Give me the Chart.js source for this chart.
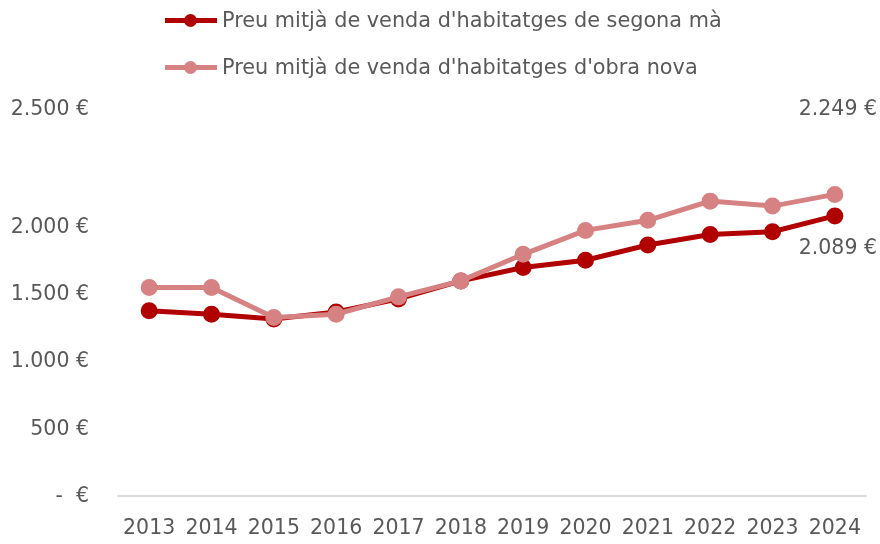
<!DOCTYPE html>
<html>
<head>
<meta charset="utf-8">
<script src="https://cdn.jsdelivr.net/npm/chart.js@4/dist/chart.umd.min.js"></script>
<style>
  html, body { margin: 0; padding: 0; background: #fff; }
  #wrap { position: relative; width: 880px; height: 544px; }
  #legend { position: absolute; left: 165px; top: 2px; font-family: "DejaVu Sans", sans-serif; font-size: 20.8px; color: #595959; }
  .item { display: flex; align-items: center; height: 36px; margin-bottom: 11px; }
  .mark { position: relative; width: 52px; height: 5px; margin-right: 5px; }
  .mark span { position: absolute; left: 19px; top: -4px; width: 13px; height: 13px; border-radius: 50%; }
</style>
</head>
<body>
<div id="wrap">
  <canvas id="priceChart" width="880" height="544"></canvas>
  <div id="legend"></div>
</div>
<script>
const years = ['2013', '2014', '2015', '2016', '2017', '2018', '2019', '2020', '2021', '2022', '2023', '2024'];
const segonaMa = [1382, 1357, 1322, 1374, 1471, 1605, 1704, 1759, 1872, 1951, 1971, 2089];
const obraNova = [1555, 1555, 1332, 1357, 1486, 1605, 1803, 1981, 2056, 2199, 2162, 2249];
const tickValues = [0, 500, 1000, 1500, 2000, 2880];
const tickLabels = ['-  €', '500 €', '1.000 €', '1.500 €', '2.000 €', '2.500 €'];
const seriesNames = ["Preu mitjà de venda d'habitatges de segona mà", "Preu mitjà de venda d'habitatges d'obra nova"];

const darkRed = '#B00000';
const pink = '#D68282';
const textColor = '#595959';
const font = '"DejaVu Sans", sans-serif';

function fmt(v) {
  return v.toLocaleString('de-DE') + ' €';
}

// last-point labels
const endLabels = {
  id: 'endLabels',
  afterDatasetsDraw(chart) {
    const ctx = chart.ctx;
    ctx.save();
    ctx.font = '20.5px ' + font;
    ctx.fillStyle = textColor;
    ctx.textAlign = 'right';
    ctx.textBaseline = 'middle';
    const last = years.length - 1;
    const p0 = chart.getDatasetMeta(0).data[last];
    ctx.fillText(fmt(segonaMa[last]), 877, p0.y + 33);
    ctx.fillText(fmt(obraNova[last]), 877, chart.scales.y.getPixelForValue(2880));
    ctx.restore();
  }
};

const ctx = document.getElementById('priceChart').getContext('2d');

const chart = new Chart(ctx, {
  type: 'line',
  data: {
    labels: years,
    datasets: [{
      label: seriesNames[0],
      data: segonaMa,
      borderColor: darkRed,
      backgroundColor: darkRed,
      borderWidth: 5,
      pointRadius: 6,
      pointHoverRadius: 6,
      tension: 0,
      order: 1
    }, {
      label: seriesNames[1],
      data: obraNova,
      borderColor: pink,
      backgroundColor: pink,
      borderWidth: 5,
      pointRadius: 6,
      pointHoverRadius: 6,
      tension: 0,
      order: 0
    }]
  },
  options: {
    responsive: false,
    animation: false,
    layout: { padding: { top: 107, right: 14, bottom: -9, left: 0 } },
    plugins: {
      legend: { display: false },
      tooltip: { enabled: false }
    },
    scales: {
      x: {
        offset: true,
        grid: { display: false },
        border: { color: '#D9D9D9', width: 2 },
        ticks: { color: textColor, font: { family: font, size: 20.5 }, padding: 12, maxRotation: 0 }
      },
      y: {
        min: 0,
        max: 2900,
        grid: { display: false },
        border: { display: false },
        afterBuildTicks(scale) {
          scale.ticks = tickValues.map(v => ({ value: v }));
        },
        afterFit(scale) {
          scale.width = 118;
        },
        ticks: {
          color: textColor,
          font: { family: font, size: 20.5 },
          padding: 21,
          callback: (v) => tickLabels[tickValues.indexOf(v)]
        }
      }
    }
  },
  plugins: [endLabels]
});

// html legend
const legend = document.getElementById('legend');
chart.data.datasets.forEach(ds => {
  const item = document.createElement('div');
  item.className = 'item';
  item.innerHTML = '<div class="mark" style="background:' + ds.borderColor + '"><span style="background:' + ds.borderColor + '"></span></div><div>' + ds.label + '</div>';
  legend.appendChild(item);
});
</script>
</body>
</html>
